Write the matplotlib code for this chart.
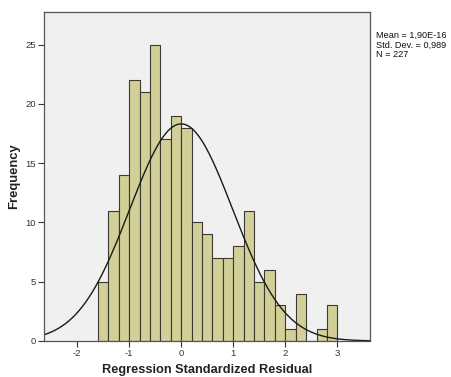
import numpy as np
import matplotlib
matplotlib.use('Agg')
import matplotlib.pyplot as plt

plt.rcParams['font.family'] = ['Liberation Sans', 'DejaVu Sans']
plt.rcParams['axes.unicode_minus'] = False

# Histogram of standardized residuals (bin width 0.2)
bin_edges = [-1.6, -1.4, -1.2, -1.0, -0.8, -0.6, -0.4, -0.2, 0.0, 0.2, 0.4, 0.6,
             0.8, 1.0, 1.2, 1.4, 1.6, 1.8, 2.0, 2.2, 2.4, 2.6, 2.8, 3.0]
counts = [5, 11, 14, 22, 21, 25, 17, 19, 18, 10, 9, 7, 7, 8, 11, 5, 6, 3, 1, 4, 0, 1, 3]

mean = 1.90e-16
std_dev = 0.989
n_obs = 227
bin_width = 0.2

fig = plt.figure(figsize=(4.51, 3.77), dpi=100)
ax = fig.add_axes([44 / 451, 1 - 341 / 377, 326 / 451, 329 / 377])
ax.set_facecolor('#f0f0f0')

lefts = np.array(bin_edges[:-1])
ax.bar(lefts, counts, width=bin_width, align='edge', color='#d3cf98',
       edgecolor='#3a3a30', linewidth=0.8)

# Normal curve scaled to the histogram
xs = np.linspace(-2.7, 3.7, 400)
pdf = np.exp(-0.5 * ((xs - mean) / std_dev) ** 2) / (std_dev * np.sqrt(2 * np.pi))
ax.plot(xs, n_obs * bin_width * pdf, color='#1a1a1a', linewidth=1.0)

ax.set_xlim(-2.635, 3.627)
ax.set_ylim(0, 27.75)
ax.set_xticks([-2, -1, 0, 1, 2, 3])
ax.set_yticks([0, 5, 10, 15, 20, 25])
ax.tick_params(labelsize=6.8, colors='#333333', length=4, width=0.8, pad=2)
for s in ax.spines.values():
    s.set_color('#555555')
    s.set_linewidth(0.9)

ax.set_xlabel('Regression Standardized Residual', fontsize=9.2, fontweight='bold',
              color='#222222', va='center')
ax.set_ylabel('Frequency', fontsize=9.4, fontweight='bold', color='#222222', va='center')
ax.xaxis.set_label_coords(0.5, (341 - 370) / 329)
ax.yaxis.set_label_coords((14 - 44) / 326, 0.5)

fig.text(376 / 451, 1 - 31 / 377,
         'Mean = 1,90E-16\nStd. Dev. = 0,989\nN = 227',
         fontsize=6.6, va='top', ha='left', color='#111111', linespacing=1.05)

fig.savefig('out.png', dpi=100, facecolor='white')
